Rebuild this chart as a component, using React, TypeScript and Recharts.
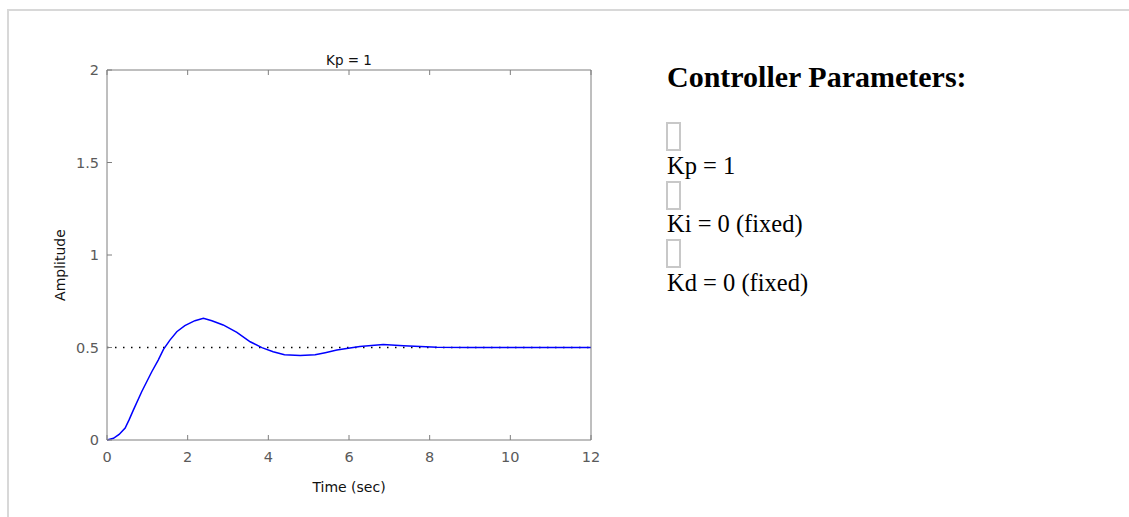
import { Label, Line, LineChart, ReferenceLine, XAxis, YAxis } from "recharts";

// step response
const timeSec = [
  0, 0.16, 0.3, 0.45, 0.55, 0.65, 0.86, 1.11, 1.27, 1.4, 1.56, 1.73, 1.93, 2.18, 2.39, 2.6, 2.88,
  3.22, 3.55, 3.84, 4.12, 4.4, 4.79, 5.16, 5.41, 5.7, 5.94, 6.27, 6.85, 7.35, 8.18, 9, 10, 11, 12,
];
const amplitude = [
  0, 0.009, 0.03, 0.065, 0.11, 0.16, 0.261, 0.369, 0.432, 0.49, 0.54, 0.585, 0.618, 0.645, 0.658,
  0.645, 0.622, 0.582, 0.531, 0.499, 0.477, 0.461, 0.457, 0.461, 0.472, 0.486, 0.495, 0.506, 0.516,
  0.51, 0.501, 0.5, 0.5, 0.5, 0.5,
];
const xTicks = [0, 2, 4, 6, 8, 10, 12];
const yTicks = [0, 0.5, 1, 1.5, 2];
const steadyState = 0.5;
const params = ["Kp = 1", "Ki = 0 (fixed)", "Kd = 0 (fixed)"];

const data = timeSec.map((t, i) => ({ t, y: amplitude[i] }));

const axisGray = "#7f7f7f";
const sans = "'DejaVu Sans', sans-serif";
const tickStyle = { fontSize: 14.5, fill: "#5a5a5a", fontFamily: sans };
const labelStyle = { fontSize: 14, fill: "#111", fontFamily: sans };

export default function App() {
  return (
    <div style={{ position: "absolute", left: 0, top: 0, width: 1129, height: 517, background: "#fff" }}>
      {/* page frame */}
      <div style={{ position: "absolute", left: 8, top: 9, width: 1121, height: 2, background: "#d8d8d8" }} />
      <div style={{ position: "absolute", left: 7, top: 9, width: 2, height: 508, background: "#d8d8d8" }} />

      <div style={{ position: "absolute", left: 0, top: 0 }}>
        <LineChart
          width={620}
          height={517}
          data={data}
          margin={{ left: 47, right: 19, top: 60, bottom: 47 }}
        >
          <XAxis
            xAxisId="b"
            dataKey="t"
            type="number"
            domain={[0, 12]}
            ticks={xTicks}
            interval={0}
            tickSize={-5}
            tickMargin={17}
            height={30}
            stroke={axisGray}
            tick={tickStyle}
          >
            <Label value="Time (sec)" position="center" dy={32} style={labelStyle} />
          </XAxis>
          <XAxis
            xAxisId="t"
            orientation="top"
            dataKey="t"
            type="number"
            domain={[0, 12]}
            ticks={xTicks}
            interval={0}
            tickSize={-5}
            height={10}
            stroke={axisGray}
            tickFormatter={() => ""}
          >
            <Label value="Kp = 1" position="center" dy={-5} style={{ ...labelStyle, fontSize: 13.5 }} />
          </XAxis>
          <YAxis
            yAxisId="l"
            type="number"
            domain={[0, 2]}
            ticks={yTicks}
            interval={0}
            tickSize={-5}
            tickMargin={13}
            width={60}
            stroke={axisGray}
            tick={tickStyle}
          >
            <Label value="Amplitude" angle={-90} position="center" dx={-17} dy={10} style={labelStyle} />
          </YAxis>
          <YAxis
            yAxisId="r"
            orientation="right"
            type="number"
            domain={[0, 2]}
            ticks={yTicks}
            interval={0}
            tickSize={-5}
            width={10}
            stroke={axisGray}
            tickFormatter={() => ""}
          />
          <ReferenceLine
            xAxisId="b"
            yAxisId="l"
            y={steadyState}
            stroke="#000"
            strokeWidth={1.3}
            strokeDasharray="1.5 6.5"
          />
          <Line
            xAxisId="b"
            yAxisId="l"
            type="linear"
            dataKey="y"
            stroke="#0000ff"
            strokeWidth={1.5}
            dot={false}
            isAnimationActive={false}
          />
        </LineChart>
      </div>

      <div
        style={{
          position: "absolute",
          left: 667,
          top: 62,
          fontFamily: "'Liberation Serif', 'Times New Roman', serif",
          fontWeight: "bold",
          fontSize: 30,
          lineHeight: "30px",
          color: "#000",
          whiteSpace: "nowrap",
        }}
      >
        Controller Parameters:
      </div>
      {params.map((p, i) => (
        <div key={p}>
          <div
            style={{
              position: "absolute",
              left: 666,
              top: 122 + i * 58.5,
              width: 11,
              height: 25,
              border: "2px solid #c8c8c8",
            }}
          />
          <div
            style={{
              position: "absolute",
              left: 667,
              top: 153.5 + i * 58.5,
              fontFamily: "'Liberation Serif', 'Times New Roman', serif",
              fontSize: 24.5,
              lineHeight: "24.5px",
              color: "#000",
              whiteSpace: "nowrap",
            }}
          >
            {p}
          </div>
        </div>
      ))}
    </div>
  );
}
